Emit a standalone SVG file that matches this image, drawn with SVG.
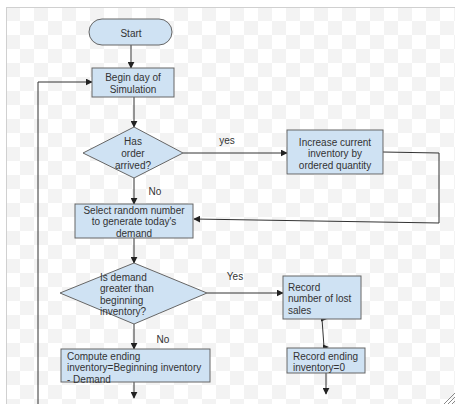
<svg xmlns="http://www.w3.org/2000/svg" width="455" height="404" viewBox="0 0 455 404">
<defs>
<pattern id="chk" x="6" y="7" width="28" height="28" patternUnits="userSpaceOnUse">
<rect width="28" height="28" fill="#ffffff"/>
<rect width="14" height="14" fill="#f3f3f3"/>
<rect x="14" y="14" width="14" height="14" fill="#f3f3f3"/>
</pattern>
<marker id="ah" viewBox="0 0 10 10" refX="9" refY="5" markerWidth="7" markerHeight="7" markerUnits="userSpaceOnUse" orient="auto">
<path d="M0,0 L10,5 L0,10 Z" fill="#222"/>
</marker>
</defs>
<style>
.shape{fill:#cfe2f3;stroke:#666;stroke-width:1}
.t{font-family:"Liberation Sans",Arial,sans-serif;font-size:10px;fill:#333}
.c{text-anchor:middle}
.ln{fill:none;stroke:#333;stroke-width:1}
.lbl{font-family:"Liberation Sans",Arial,sans-serif;font-size:10px;fill:#333;text-anchor:middle}
</style>
<rect width="455" height="404" fill="#ffffff"/>
<rect x="6" y="7" width="449" height="397" fill="url(#chk)"/>
<line x1="6" y1="7.5" x2="455" y2="7.5" stroke="#d0d0d0"/>
<line x1="6.5" y1="7" x2="6.5" y2="404" stroke="#d0d0d0"/>

<g id="connectors">
<line class="ln" x1="131" y1="45" x2="131" y2="68" marker-end="url(#ah)"/>
<polyline class="ln" points="38,404 38,82 92,82" marker-end="url(#ah)"/>
<line class="ln" x1="134" y1="97" x2="134" y2="127" marker-end="url(#ah)"/>
<line class="ln" x1="183" y1="153" x2="287" y2="153" marker-end="url(#ah)"/>
<polyline class="ln" points="383,152 439,153 439,223 194,219" marker-end="url(#ah)"/>
<line class="ln" x1="134" y1="178" x2="134" y2="204" marker-end="url(#ah)"/>
<line class="ln" x1="134" y1="238" x2="134" y2="263" marker-end="url(#ah)"/>
<line class="ln" x1="207" y1="293" x2="283" y2="293" marker-end="url(#ah)"/>
<line class="ln" x1="134" y1="324" x2="134" y2="349" marker-end="url(#ah)"/>
<line class="ln" x1="134" y1="382" x2="134" y2="398" marker-end="url(#ah)"/>
<line class="ln" x1="322" y1="319" x2="324" y2="347"/>
<path d="M321,316.5 L327,319 L321,321.5 Z" fill="#222"/>
<path d="M323,344.5 L329,347 L323,349.5 Z" fill="#222"/>
<line class="ln" x1="326" y1="373" x2="326" y2="394" marker-end="url(#ah)"/>
<text class="lbl" x="227" y="144">yes</text>
<text class="lbl" x="155" y="195">No</text>
<text class="lbl" x="235" y="280">Yes</text>
<text class="lbl" x="163" y="343">No</text>
</g>

<g id="start">
<rect class="shape" x="89" y="19" width="83" height="26" rx="13" ry="13"/>
<text class="t c" x="131" y="36.5">Start</text>
</g>

<g id="begin">
<rect class="shape" x="92" y="68" width="82" height="29"/>
<text class="t c" x="133" y="80.5">Begin day of</text>
<text class="t c" x="133" y="92.5">Simulation</text>
</g>

<g id="has-order">
<polygon class="shape" points="134,127 183,153 134,178 83,153"/>
<text class="t c" x="133" y="144.5">Has</text>
<text class="t c" x="133" y="156.5">order</text>
<text class="t c" x="133" y="168.5">arrived?</text>
</g>

<g id="increase">
<rect class="shape" x="287" y="130" width="96" height="44"/>
<text class="t c" x="335" y="145.5">Increase current</text>
<text class="t c" x="335" y="157">inventory by</text>
<text class="t c" x="335" y="168.5">ordered quantity</text>
</g>

<g id="select">
<rect class="shape" x="75" y="204" width="118" height="34"/>
<text class="t c" x="134" y="213.5">Select random number</text>
<text class="t c" x="134" y="225">to generate today's</text>
<text class="t c" x="134" y="236.5">demand</text>
</g>

<g id="demand-check">
<polygon class="shape" points="134,263 207,293 134,324 60,293"/>
<text class="t" x="100" y="280.5">Is demand</text>
<text class="t" x="100" y="292">greater than</text>
<text class="t" x="100" y="303.5">beginning</text>
<text class="t" x="100" y="315">inventory?</text>
</g>

<g id="compute">
<rect class="shape" x="61" y="349" width="149" height="33"/>
<text class="t" x="67" y="359.5">Compute ending</text>
<text class="t" x="67" y="371">inventory=Beginning inventory</text>
<text class="t" x="67" y="382.5">- Demand</text>
</g>

<g id="lost-sales">
<rect class="shape" x="283" y="276" width="78" height="43"/>
<text class="t" x="288" y="290.5">Record</text>
<text class="t" x="288" y="302">number of lost</text>
<text class="t" x="288" y="313.5">sales</text>
</g>

<g id="ending-zero">
<rect class="shape" x="287" y="348" width="78" height="25"/>
<text class="t" x="293" y="359.5">Record ending</text>
<text class="t" x="293" y="371">inventory=0</text>
</g>

<g id="resize-handle" stroke="#888" stroke-width="1">
<line x1="444" y1="404" x2="455" y2="393"/>
<line x1="448" y1="404" x2="455" y2="397"/>
<line x1="452" y1="404" x2="455" y2="401"/>
</g>
</svg>
